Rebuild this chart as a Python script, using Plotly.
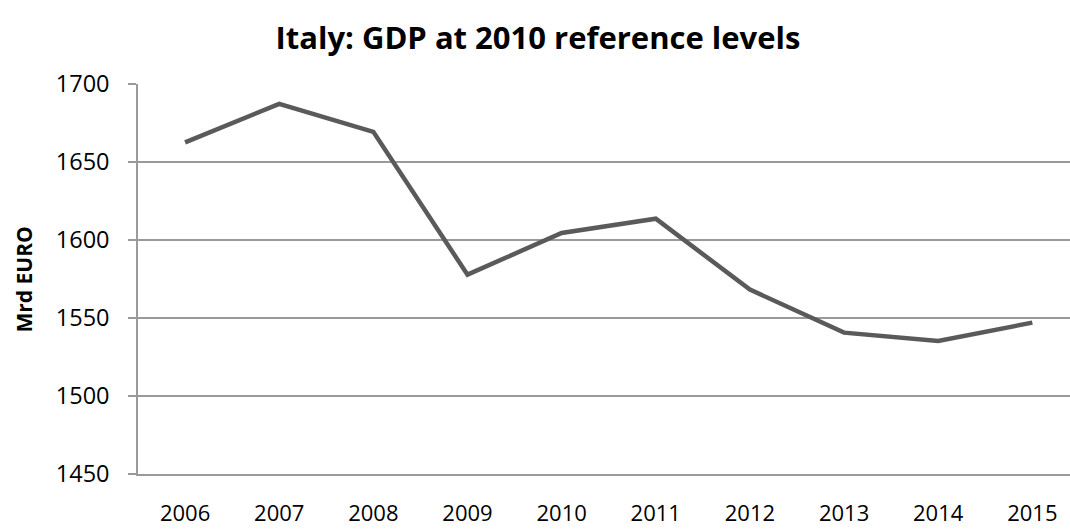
import plotly.graph_objects as go

# Italy real GDP, billions of euro at 2010 reference levels
years = ["2006", "2007", "2008", "2009", "2010", "2011", "2012", "2013", "2014", "2015"]
gdp = [1662.6, 1687.4, 1669.4, 1577.8, 1604.5, 1613.7, 1568.2, 1540.6, 1535.3, 1547.0]
y_ticks = [1450, 1500, 1550, 1600, 1650, 1700]

W, H = 1070, 529
left, top, bottom = 137.5, 84, 55

fig = go.Figure(
    go.Scatter(
        x=years,
        y=gdp,
        mode="lines",
        line=dict(color="#5a5a5a", width=4.5),
        hoverinfo="x+y",
    )
)

fig.update_layout(
    width=W,
    height=H,
    margin=dict(l=left, r=0, t=top, b=bottom),
    paper_bgcolor="white",
    plot_bgcolor="white",
    showlegend=False,
    title=dict(
        text="<b>Italy: GDP at 2010 reference levels</b>",
        font=dict(family="Open Sans", size=31, color="#000000"),
        x=538 / W,
        xanchor="center",
        yref="container",
        y=1 - 38 / H,
        yanchor="middle",
    ),
    annotations=[
        dict(
            text="<b>Mrd EURO</b>",
            textangle=-90,
            xref="paper",
            yref="paper",
            x=(23 - left) / (W - left),
            y=(H - bottom - 280) / (H - top - bottom),
            xanchor="center",
            yanchor="middle",
            showarrow=False,
            font=dict(family="Open Sans", size=21, color="#000000"),
        )
    ],
)

fig.update_xaxes(
    type="category",
    range=[-0.5, 9.4],
    automargin=False,
    showgrid=False,
    showline=True,
    linecolor="#9a9a9a",
    linewidth=1.5,
    ticks="",
    ticklabelstandoff=19,
    tickfont=dict(family="Open Sans", size=22, color="#000000"),
    fixedrange=True,
)

fig.update_yaxes(
    range=[1449.9, 1700.1],
    tickvals=y_ticks,
    automargin=False,
    showgrid=True,
    gridcolor="#9a9a9a",
    gridwidth=1.5,
    showline=True,
    linecolor="#9a9a9a",
    linewidth=1.5,
    ticks="outside",
    ticklen=8,
    tickcolor="#9a9a9a",
    tickwidth=1.5,
    ticklabelstandoff=14,
    tickfont=dict(family="Open Sans", size=23.5, color="#000000"),
    zeroline=False,
    fixedrange=True,
)

fig.write_html("out.html")
